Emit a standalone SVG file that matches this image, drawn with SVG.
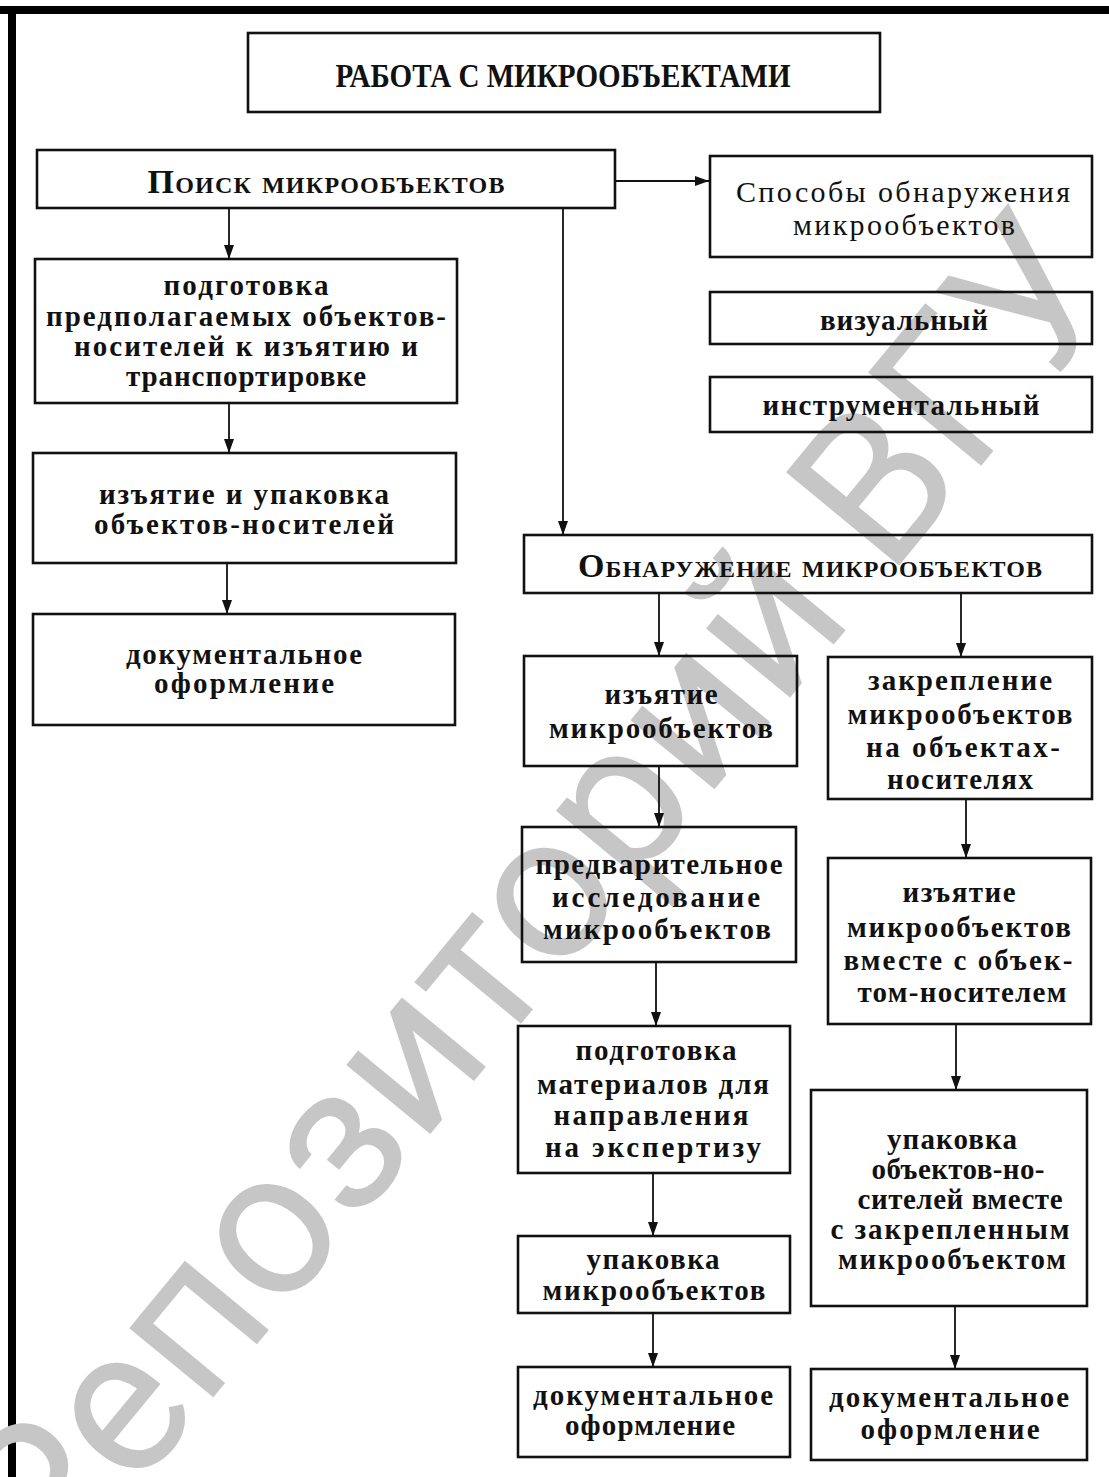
<svg xmlns="http://www.w3.org/2000/svg" width="1109" height="1477" viewBox="0 0 1109 1477">
<style>
.box{fill:none;stroke:#111;stroke-width:2.6}
.ln{fill:none;stroke:#111;stroke-width:1.8}
.t{font-family:"Liberation Serif",serif;font-weight:bold;font-size:29px;fill:#111;text-anchor:middle}
.h{font-family:"Liberation Serif",serif;font-weight:normal;font-size:30px;fill:#111;text-anchor:middle}
.ttl{font-family:"Liberation Serif",serif;font-weight:bold;font-size:34px;fill:#111;text-anchor:middle}
.sc{font-family:"Liberation Serif",serif;font-weight:bold;font-variant:small-caps;font-size:34px;fill:#111;text-anchor:middle}
.wm{font-family:Roboto,"Liberation Sans",sans-serif;font-size:206px;fill:#c6c6c6}
</style>
<defs>
<marker id="ah" markerUnits="userSpaceOnUse" markerWidth="14" markerHeight="10" refX="14" refY="5" orient="auto">
<path d="M0,0 L14,5 L0,10 z" fill="#111"/>
</marker>
</defs>
<rect x="0" y="0" width="1109" height="1477" fill="#fff"/>
<rect x="0" y="6" width="1109" height="8" fill="#000"/>
<rect x="8" y="6" width="8" height="1471" fill="#000"/>
<text class="wm" transform="translate(52,1593) rotate(-50.5)">Репозиторий ВГУ</text>

<g id="connectors">
<line class="ln" x1="615" y1="181" x2="709" y2="181" marker-end="url(#ah)"/>
<line class="ln" x1="229" y1="208" x2="229" y2="259" marker-end="url(#ah)"/>
<line class="ln" x1="229" y1="403" x2="229" y2="453" marker-end="url(#ah)"/>
<line class="ln" x1="227" y1="563" x2="227" y2="614" marker-end="url(#ah)"/>
<line class="ln" x1="563" y1="208" x2="563" y2="535" marker-end="url(#ah)"/>
<line class="ln" x1="659" y1="593" x2="659" y2="656" marker-end="url(#ah)"/>
<line class="ln" x1="961" y1="593" x2="961" y2="657" marker-end="url(#ah)"/>
<line class="ln" x1="659" y1="766" x2="659" y2="827" marker-end="url(#ah)"/>
<line class="ln" x1="966" y1="799" x2="966" y2="858" marker-end="url(#ah)"/>
<line class="ln" x1="656" y1="962" x2="656" y2="1026" marker-end="url(#ah)"/>
<line class="ln" x1="956" y1="1024" x2="956" y2="1090" marker-end="url(#ah)"/>
<line class="ln" x1="653" y1="1173" x2="653" y2="1236" marker-end="url(#ah)"/>
<line class="ln" x1="653" y1="1313" x2="653" y2="1367" marker-end="url(#ah)"/>
<line class="ln" x1="955" y1="1306" x2="955" y2="1369" marker-end="url(#ah)"/>
</g>

<g id="title">
<rect class="box" x="248" y="33" width="632" height="79"/>
<text class="ttl" x="563" y="87" textLength="455" lengthAdjust="spacingAndGlyphs">РАБОТА С МИКРООБЪЕКТАМИ</text>
</g>
<g id="poisk">
<rect class="box" x="37" y="150" width="578" height="58"/>
<text class="sc" x="326" y="193" textLength="357">Поиск микрообъектов</text>
</g>
<g id="sposoby">
<rect class="box" x="710" y="156" width="382" height="101"/>
<text class="h" x="903" y="202" textLength="334">Способы обнаружения</text>
<text class="h" x="904" y="235" textLength="222">микрообъектов</text>
</g>
<g id="vizual">
<rect class="box" x="710" y="292" width="382" height="52"/>
<text class="t" x="904" y="330" textLength="168">визуальный</text>
</g>
<g id="instr">
<rect class="box" x="710" y="377" width="382" height="55"/>
<text class="t" x="901" y="415" textLength="277">инструментальный</text>
</g>
<g id="podg1">
<rect class="box" x="35" y="259" width="422" height="144"/>
<text class="t" x="246" y="295" textLength="165">подготовка</text>
<text class="t" x="246" y="326" textLength="400">предполагаемых объектов-</text>
<text class="t" x="246" y="356" textLength="344">носителей к изъятию и</text>
<text class="t" x="246" y="386" textLength="240">транспортировке</text>
</g>
<g id="izyat1">
<rect class="box" x="33" y="453" width="423" height="110"/>
<text class="t" x="244" y="504" textLength="290">изъятие и упаковка</text>
<text class="t" x="244" y="534" textLength="300">объектов-носителей</text>
</g>
<g id="dok1">
<rect class="box" x="33" y="614" width="422" height="111"/>
<text class="t" x="244" y="664" textLength="236">документальное</text>
<text class="t" x="244" y="693" textLength="180">оформление</text>
</g>
<g id="obnar">
<rect class="box" x="524" y="535" width="568" height="58"/>
<text class="sc" x="810" y="577" textLength="464">Обнаружение микрообъектов</text>
</g>
<g id="izyat2">
<rect class="box" x="524" y="656" width="273" height="110"/>
<text class="t" x="661" y="704" textLength="113">изъятие</text>
<text class="t" x="661" y="738" textLength="224">микрообъектов</text>
</g>
<g id="zakrep">
<rect class="box" x="828" y="657" width="264" height="142"/>
<text class="t" x="960" y="690" textLength="184">закрепление</text>
<text class="t" x="960" y="724" textLength="225">микрообъектов</text>
<text class="t" x="963" y="757" textLength="194">на объектах-</text>
<text class="t" x="960" y="789" textLength="146">носителях</text>
</g>
<g id="predv">
<rect class="box" x="522" y="827" width="274" height="135"/>
<text class="t" x="659" y="874" textLength="247">предварительное</text>
<text class="t" x="656" y="907" textLength="208">исследование</text>
<text class="t" x="657" y="939" textLength="228">микрообъектов</text>
</g>
<g id="izyat3">
<rect class="box" x="828" y="858" width="263" height="166"/>
<text class="t" x="959" y="902" textLength="113">изъятие</text>
<text class="t" x="959" y="937" textLength="224">микрообъектов</text>
<text class="t" x="958" y="970" textLength="229">вместе с объек-</text>
<text class="t" x="962" y="1002" textLength="209">том-носителем</text>
</g>
<g id="podg2">
<rect class="box" x="518" y="1026" width="272" height="147"/>
<text class="t" x="656" y="1060" textLength="161">подготовка</text>
<text class="t" x="653" y="1094" textLength="232">материалов для</text>
<text class="t" x="651" y="1125" textLength="195">направления</text>
<text class="t" x="653" y="1157" textLength="216">на экспертизу</text>
</g>
<g id="upak_r">
<rect class="box" x="811" y="1090" width="276" height="216"/>
<text class="t" x="952" y="1149" textLength="130">упаковка</text>
<text class="t" x="958" y="1179" textLength="173">объектов-но-</text>
<text class="t" x="960" y="1209" textLength="205">сителей вместе</text>
<text class="t" x="950" y="1239" textLength="239">с закрепленным</text>
<text class="t" x="952" y="1269" textLength="228">микрообъектом</text>
</g>
<g id="upak2">
<rect class="box" x="518" y="1236" width="272" height="77"/>
<text class="t" x="653" y="1269" textLength="133">упаковка</text>
<text class="t" x="654" y="1300" textLength="223">микрообъектов</text>
</g>
<g id="dok2">
<rect class="box" x="518" y="1367" width="272" height="90"/>
<text class="t" x="653" y="1405" textLength="240">документальное</text>
<text class="t" x="650" y="1435" textLength="170">оформление</text>
</g>
<g id="dok3">
<rect class="box" x="811" y="1369" width="276" height="91"/>
<text class="t" x="949" y="1407" textLength="240">документальное</text>
<text class="t" x="950" y="1439" textLength="179">оформление</text>
</g>
</svg>
